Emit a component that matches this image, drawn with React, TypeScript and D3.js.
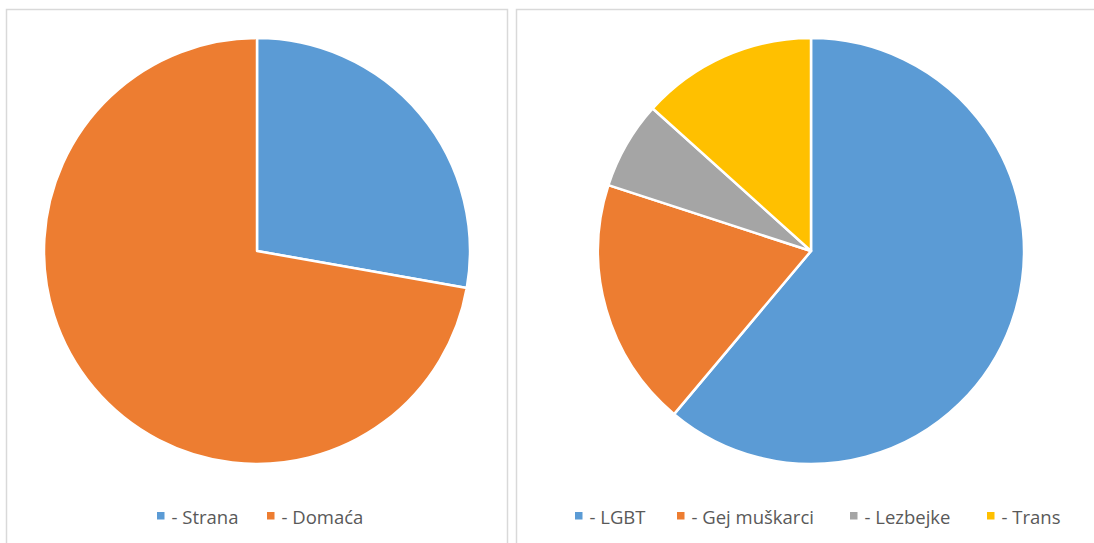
import React from "react";
import * as d3 from "d3";

const leftLabels = ["- Strana", "- Domaća"];
const leftValues = [25, 65];
const leftColors = ["#5B9BD5", "#ED7D31"];

const rightLabels = ["- LGBT", "- Gej muškarci", "- Lezbejke", "- Trans"];
const rightValues = [55, 17, 6, 12];
const rightColors = ["#5B9BD5", "#ED7D31", "#A5A5A5", "#FFC000"];

const W = 1094;
const H = 543;

function Pie({ cx, cy, r, values, colors }: { cx: number; cy: number; r: number; values: number[]; colors: string[] }) {
  const arcs = d3.pie<number>().sort(null).value((d) => d)(values);
  const arc = d3.arc<d3.PieArcDatum<number>>().innerRadius(0).outerRadius(r);
  return (
    <g transform={`translate(${cx},${cy})`}>
      {arcs.map((a, i) => (
        <path key={i} d={arc(a) || ""} fill={colors[i]} stroke="#ffffff" strokeWidth={2.5} strokeLinejoin="round" />
      ))}
    </g>
  );
}

function Legend({ xs, y, labels, colors }: { xs: number[]; y: number; labels: string[]; colors: string[] }) {
  return (
    <g>
      {labels.map((l, i) => (
        <g key={i}>
          <rect x={xs[i]} y={y - 4} width={7.5} height={7.5} fill={colors[i]} />
          <text x={xs[i] + 14.5} y={y + 8} fontFamily="'Open Sans', sans-serif" fontSize={18.5} fill="#595959">
            {l}
          </text>
        </g>
      ))}
    </g>
  );
}

export default function App() {
  return (
    <svg width={W} height={H} style={{ position: "absolute", left: 0, top: 0, background: "#fff" }}>
      <rect x={0} y={0} width={W} height={H} fill="#ffffff" />
      <path d={`M6.5,${H} V9.5 H507.5 V${H}`} fill="none" stroke="#d9d9d9" strokeWidth={1.5} />
      <path d={`M516.5,${H} V9.5 H${W}`} fill="none" stroke="#d9d9d9" strokeWidth={1.5} />
      <Pie cx={257} cy={251} r={213} values={leftValues} colors={leftColors} />
      <Pie cx={811} cy={251} r={213} values={rightValues} colors={rightColors} />
      <Legend xs={[157, 267]} y={516} labels={leftLabels} colors={leftColors} />
      <Legend xs={[575, 677, 850, 987]} y={516} labels={rightLabels} colors={rightColors} />
    </svg>
  );
}
